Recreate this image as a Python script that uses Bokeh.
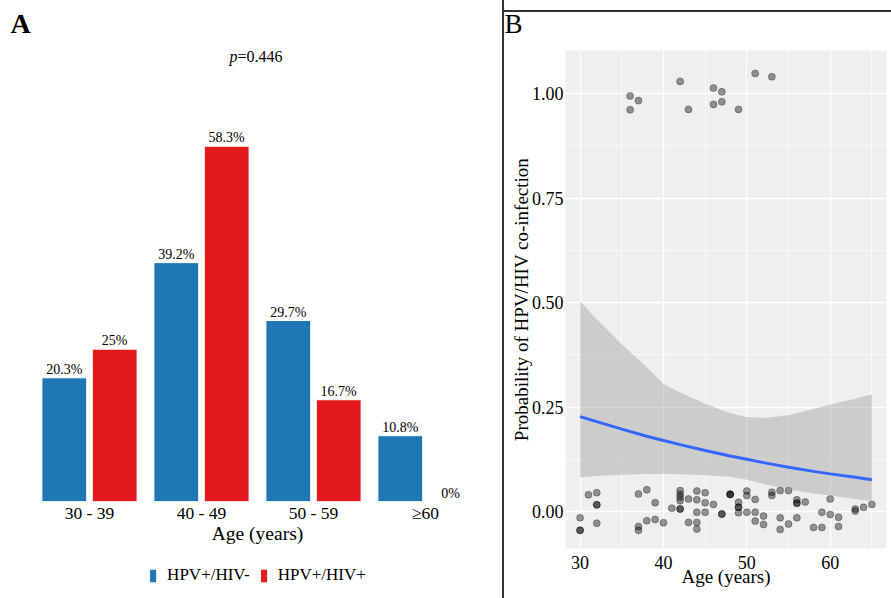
from bokeh.plotting import figure
from bokeh.models import (FactorRange, Range1d, Label, Legend, LegendItem,
                          FixedTicker, ColumnDataSource, NumeralTickFormatter)
from bokeh.transform import dodge
from bokeh.layouts import row, column
from bokeh.embed import file_html
from bokeh.resources import INLINE
from bokeh.core.properties import value

# ---------------- data ----------------
age_groups = ["30 - 39", "40 - 49", "50 - 59", "\u226560"]
pct_hiv_neg = [20.3, 39.2, 29.7, 10.8]
pct_hiv_pos = [25.0, 58.3, 16.7, 0.0]
series_names = ["HPV+/HIV-", "HPV+/HIV+"]
p_value = "=0.446"

# panel B: jittered observations (age, co-infection 0/1 with vertical jitter)
pt_age = [36, 37, 36, 42, 43, 46, 47, 46, 47, 49, 51, 53,
          30, 30, 30, 31, 32, 32, 32, 32, 37, 37, 37, 38, 38, 39, 39, 40, 41,
          42, 42, 42, 42, 42, 42, 43, 43, 44, 44, 44, 44, 44, 45, 45, 45, 46,
          47, 47, 48, 48, 48, 49, 49, 49, 49, 50, 50, 50, 51, 51, 51, 52, 52,
          53, 53, 54, 54, 54, 55, 55, 56, 56, 56, 56, 57, 58, 59, 59, 60, 60,
          61, 61, 63, 63, 64, 65]
pt_prob = [0.994, 0.983, 0.961, 1.029, 0.962, 1.013, 1.004, 0.974, 0.980, 0.962, 1.048, 1.040,
           -0.015, -0.045, -0.045, 0.040, 0.045, 0.016, 0.016, -0.028, 0.042, -0.036, -0.045,
           0.052, -0.022, 0.021, -0.019, -0.027, 0.008,
           0.050, 0.041, 0.034, 0.026, 0.006, 0.006, 0.030, -0.026, 0.049, 0.028, -0.002,
           -0.026, -0.042, 0.045, 0.021, -0.002, 0.017,
           -0.006, -0.006, 0.041, 0.041, 0.041, 0.022, 0.010, 0.010, -0.003, 0.049, 0.038,
           -0.002, 0.029, -0.002, -0.023, -0.011, -0.031,
           0.046, 0.038, 0.050, -0.015, -0.043, 0.050, -0.030, 0.028, 0.020, 0.020, -0.015,
           0.023, -0.038, -0.002, -0.038, 0.030, -0.007,
           -0.014, -0.036, 0.006, 0.001, 0.010, 0.017]

# panel B: fitted logistic curve and its confidence band
fit_age = [30, 32, 35, 38, 40, 42, 45, 48, 50, 52, 55, 58, 60, 63, 65]
fit_prob = [0.227, 0.215, 0.197, 0.180, 0.170, 0.160, 0.146, 0.133, 0.125, 0.117,
            0.106, 0.096, 0.090, 0.082, 0.076]
fit_upper = [0.503, 0.460, 0.400, 0.345, 0.305, 0.285, 0.258, 0.235, 0.226, 0.224,
             0.230, 0.245, 0.256, 0.270, 0.280]
fit_lower = [0.082, 0.085, 0.088, 0.090, 0.090, 0.089, 0.087, 0.083, 0.076, 0.066,
             0.053, 0.043, 0.038, 0.030, 0.025]

SERIF = "Liberation Serif"
BLUE = "#1f77b4"
RED = "#e31a1c"

# ---------------- panel A ----------------
pA = figure(x_range=FactorRange(factors=age_groups, range_padding=0),
            y_range=Range1d(0, 75.16),
            frame_width=448, frame_height=458,
            min_border_left=33, min_border_right=21,
            min_border_top=41, min_border_bottom=50,
            output_backend="svg", toolbar_location=None,
            outline_line_color=None, background_fill_color="white",
            border_fill_color="white", title="A")
pA.title.text_font = SERIF
pA.title.text_font_size = "28px"
pA.title.text_font_style = "bold"
pA.title.text_color = "black"
pA.title.align = "left"
pA.title.offset = -23
pA.title.standoff = 10

src = ColumnDataSource(dict(
    cat=age_groups, neg=pct_hiv_neg, pos=pct_hiv_pos,
    neg_lbl=[f"{v:g}%" for v in pct_hiv_neg],
    pos_lbl=[f"{v:g}%" for v in pct_hiv_pos]))

bar_kw = dict(width=0.4, source=src, line_color="white", line_width=1)
pA.vbar(x=dodge("cat", -0.225, range=pA.x_range), top="neg", fill_color=BLUE, **bar_kw)
pA.vbar(x=dodge("cat", 0.225, range=pA.x_range), top="pos", fill_color=RED, **bar_kw)

for col, off in (("neg", -0.225), ("pos", 0.225)):
    pA.text(x=dodge("cat", off, range=pA.x_range), y=col, text=col + "_lbl",
            source=src, text_align="center", text_baseline="bottom",
            y_offset=-1, text_font=value(SERIF), text_font_size="14px",
            text_color="black")

pA.xgrid.visible = False
pA.ygrid.visible = False
pA.yaxis.visible = False
xa = pA.xaxis[0]
xa.axis_line_color = None
xa.major_tick_line_color = None
xa.minor_tick_line_color = None
xa.major_tick_out = 0
xa.major_tick_in = 0
xa.major_label_standoff = 1
xa.major_label_text_font = SERIF
xa.major_label_text_font_size = "17.5px"
xa.major_label_text_color = "black"
xa.axis_label = "Age (years)"
xa.axis_label_text_font = SERIF
xa.axis_label_text_font_size = "19.5px"
xa.axis_label_text_font_style = "normal"
xa.axis_label_text_color = "black"
xa.axis_label_standoff = -3

pA.add_layout(Label(x=2.0, y=71.63, x_offset=-20, text="p", text_font=SERIF,
                    text_font_size="16px", text_font_style="italic",
                    text_color="black", text_align="right", text_baseline="bottom"))
pA.add_layout(Label(x=2.0, y=71.63, x_offset=-20, text=p_value, text_font=SERIF,
                    text_font_size="16px", text_color="black",
                    text_align="left", text_baseline="bottom"))

# legend strip under panel A (hidden copies of the bars serve as legend keys)
pL = figure(x_range=pA.x_range, y_range=Range1d(0, 75.16),
            frame_width=448, frame_height=48,
            min_border_left=33, min_border_right=21,
            min_border_top=0, min_border_bottom=0,
            x_axis_location=None, y_axis_location=None,
            output_backend="svg", toolbar_location=None,
            outline_line_color=None, background_fill_color="white",
            border_fill_color="white")
pL.xgrid.visible = False
pL.ygrid.visible = False
leg_neg = pL.vbar(x=dodge("cat", -0.225, range=pL.x_range), top="neg",
                  fill_color=BLUE, visible=False, **bar_kw)
leg_pos = pL.vbar(x=dodge("cat", 0.225, range=pL.x_range), top="pos",
                  fill_color=RED, visible=False, **bar_kw)
legend = Legend(items=[LegendItem(label=series_names[0], renderers=[leg_neg]),
                       LegendItem(label=series_names[1], renderers=[leg_pos])],
                orientation="horizontal", location="center",
                glyph_width=9, glyph_height=17, label_standoff=10, spacing=9,
                label_text_font=SERIF, label_text_font_size="17px",
                label_text_color="black", border_line_color=None,
                background_fill_alpha=0, padding=0, margin=0,
                inactive_fill_alpha=0)
pL.add_layout(legend)

# ---------------- panel B ----------------
pB = figure(x_range=Range1d(28.25, 66.75), y_range=Range1d(-0.0885, 1.1029),
            frame_width=319, frame_height=498,
            min_border_left=61, min_border_right=7,
            min_border_top=58, min_border_bottom=50,
            output_backend="svg", toolbar_location=None,
            outline_line_color=None, background_fill_color="#EFEFEF",
            border_fill_color="white", border_fill_alpha=0)
pB.styles = {"margin-top": "-8px",
             "border-left": "2px solid #333333",
             "background-image": "linear-gradient(#333333, #333333)",
             "background-size": "100% 2px",
             "background-position": "0px 18px",
             "background-repeat": "no-repeat",
             "background-color": "white"}

xt = FixedTicker(ticks=[30, 40, 50, 60], minor_ticks=[30, 35, 40, 45, 50, 55, 60, 65])
yt = FixedTicker(ticks=[0, 0.25, 0.5, 0.75, 1.0],
                 minor_ticks=[0, 0.125, 0.25, 0.375, 0.5, 0.625, 0.75, 0.875, 1.0])
pB.xaxis.ticker = xt
pB.yaxis.ticker = yt
pB.xgrid.ticker = xt
pB.ygrid.ticker = yt
for g in (pB.xgrid[0], pB.ygrid[0]):
    g.grid_line_color = "white"
    g.grid_line_width = 1.3
    g.minor_grid_line_color = "white"
    g.minor_grid_line_width = 0.6
pB.yaxis.formatter = NumeralTickFormatter(format="0.00")
for ax in (pB.xaxis[0], pB.yaxis[0]):
    ax.axis_line_color = None
    ax.major_tick_line_color = None
    ax.minor_tick_line_color = None
    ax.major_tick_out = 0
    ax.major_tick_in = 0
    ax.minor_tick_out = 0
    ax.minor_tick_in = 0
    ax.major_label_text_font = SERIF
    ax.major_label_text_font_size = "18px"
    ax.major_label_text_color = "black"
    ax.axis_label_text_font = SERIF
    ax.axis_label_text_font_size = "19px"
    ax.axis_label_text_font_style = "normal"
    ax.axis_label_text_color = "black"
pB.xaxis.axis_label = "Age (years)"
pB.yaxis.axis_label = "Probability of HPV/HIV co-infection"
pB.xaxis.major_label_standoff = 7
pB.xaxis.axis_label_standoff = -6
pB.yaxis.major_label_standoff = 2
pB.yaxis.axis_label_standoff = -3

pB.scatter(pt_age, pt_prob, size=7, fill_color="black", fill_alpha=0.4,
           line_color="black", line_alpha=0.3)
pB.varea(x=fit_age, y1=fit_lower, y2=fit_upper, fill_color="#999999", fill_alpha=0.4)
pB.line(fit_age, fit_prob, line_color="#3366FF", line_width=3)

pB.title.text = "B"
pB.title.text_font = SERIF
pB.title.text_font_size = "27px"
pB.title.text_font_style = "normal"
pB.title.text_color = "black"
pB.title.align = "left"
pB.title.offset = -61
pB.title.standoff = 24

layout = row(column(pA, pL), pB)
open("out.html", "w").write(file_html(layout, INLINE))
